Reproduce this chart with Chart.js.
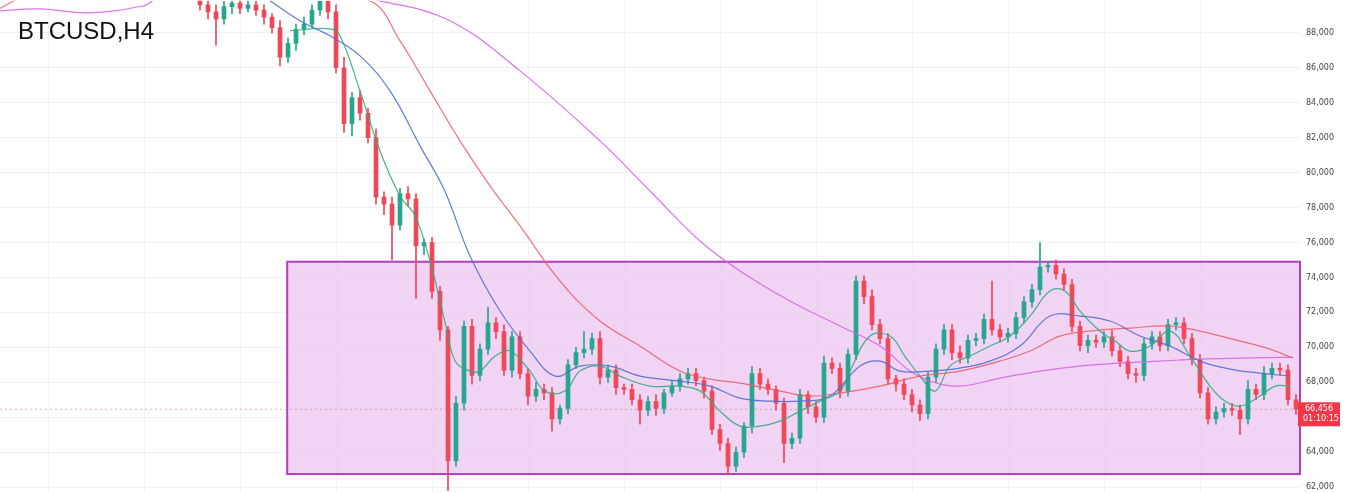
<!DOCTYPE html>
<html>
<head>
<meta charset="utf-8">
<script src="https://cdn.jsdelivr.net/npm/chart.js@4"></script>
<style>
  html, body { margin: 0; padding: 0; background: #fff; overflow: hidden; }
  #wrap { position: relative; width: 1351px; height: 493px; overflow: hidden; }
  #grafico { position: absolute; left: 0; top: -10px; }
  #title { position: absolute; left: 18px; top: 17px; font: 24px "Liberation Sans", Arial, sans-serif; color: #111; z-index: 2; }
</style>
</head>
<body>
<div id="wrap">
  <canvas id="grafico" width="1351" height="515"></canvas>
  <div id="title">BTCUSD,H4</div>
</div>
<script>
// closes of the H4 candles, oldest first (open = previous close)
const firstOpen = 89900;
const closes = [
  89600, 89200, 88800, 89500, 89700, 89400, 89600, 89300, 88900, 88300,
  86600, 87400, 88200, 88500, 89300, 89800, 89200, 86000, 82800, 84300,
  83400, 82000, 78600, 78200, 77000, 78800, 78500, 75800, 76000, 73200,
  71000, 63500, 66800, 71200, 68400, 69900, 71400, 70900, 68700, 70600,
  68500, 67200, 67600, 67400, 65900, 66500, 69000, 69700, 69900, 70500,
  68300, 68700, 67700, 67600, 67000, 66400, 66900, 66500, 67400, 67800,
  68200, 68500, 68100, 67500, 65300, 64500, 63200, 64000, 65500, 68500,
  67900, 67600, 66800, 64500, 64800, 67300, 66600, 66000, 69100, 68800,
  67500, 69600, 73800, 72900, 71300, 70500, 68200, 67900, 67300, 66700,
  66200, 68300, 69900, 71000, 69700, 69400, 70400, 70500, 71600, 71000,
  70600, 70800, 71700, 72600, 73300, 74600, 74700, 74200, 73600, 71200,
  70100, 70400, 70300, 70600, 69800, 69200, 68500, 68400, 70200, 70600,
  70100, 71300, 71400, 70500, 69300, 67400, 65900, 66300, 66500, 66400,
  65900, 67600, 67300, 68500, 68800, 68700, 67000, 66456
];
const upWick = [
  200,300,400,300,200,300,300,200,300,200,
  400,300,300,400,300,200,300,400,600,300,
  400,300,500,300,400,300,400,300,200,300,
  300,200,400,300,400,300,600,300,400,300,
  300,300,400,300,300,200,300,300,500,300,
  400,300,300,200,300,300,300,400,200,300,
  300,300,300,200,300,300,300,300,200,400,
  300,300,200,300,300,300,200,300,400,300,
  300,300,300,300,400,300,300,200,300,300,
  300,300,300,300,300,400,300,300,300,200,
  300,300,300,300,300,300,200,300,300,300,
  300,300,300,300,400,300,300,300,300,300,
  300,300,300,300,300,300,300,300,300,300,
  300,500,300,400,300,300,300,300
];
const dnWick = [
  300,400,1500,300,400,300,200,300,400,300,
  500,300,400,300,200,300,400,300,500,700,
  400,300,400,600,1000,300,400,300,500,400,
  600,1700,300,400,500,300,300,400,300,400,
  300,500,300,400,500,300,300,200,300,300,
  400,300,400,300,300,500,300,400,300,200,
  300,300,300,400,300,400,500,300,300,400,
  300,300,400,600,300,300,400,300,300,300,
  400,300,300,400,300,300,300,400,300,400,
  400,300,300,300,400,300,300,300,300,300,
  300,300,300,300,300,300,300,300,300,300,
  300,400,300,300,300,300,300,400,300,300,
  300,300,300,300,300,300,300,300,300,300,
  900,300,300,300,300,300,300,300
];
// notable wick extremes [candle, price]
const wickHighs = [[36, 72300], [48, 70900], [82, 74100], [99, 73800], [105, 76000]];
const wickLows = [[2, 87300], [24, 75000], [27, 72800], [31, 61800], [44, 65200], [55, 65600], [66, 62700], [73, 63400], [130, 65000]];

// moving averages [candle index, price]
const maGreen = [[11.25,88115],[16.25,88229],[17.5,87828],[20,84678],[22.5,81242],[25,78665],[26.9,77520],[28.75,74943],[30.6,71506],[31.9,69215],[33.75,68643],[35,68643],[36.9,69502],[38.75,69788],[41.25,68643],[43.1,67498],[45.6,67498],[47.5,68643],[50,68929],[52.5,68357],[56.25,67784],[60,67784],[62.5,67498],[65,66353],[67.5,65494],[70,65494],[72.5,65780],[75,66353],[77.5,66925],[80,67498],[81.25,68643],[83.75,70647],[86.25,70647],[88.1,69502],[90,68357],[91.9,67498],[93.75,68929],[96.25,69502],[98.75,70074],[101.25,70647],[103.75,71793],[106.25,73225],[108.1,73225],[110,72079],[112.5,70934],[114.4,70361],[116.25,69788],[118.75,70074],[121.25,70934],[123.75,69502],[126.25,67784],[128.1,66925],[130,66639],[132.5,67211],[134.4,67784],[136.25,67784]];
const maBlue = [[8.75,89833],[12.5,88687],[16.25,87828],[20,86683],[23.75,84678],[27.5,81529],[30.6,78951],[33.75,75229],[37.5,72079],[41.25,69788],[44.4,68357],[47.5,68929],[51.25,68929],[55,68357],[60,68070],[63.75,67784],[67.5,67097],[71.25,66925],[75,66925],[78.75,67211],[82.5,68929],[85,69215],[87.5,68643],[91.25,68643],[95,68815],[98.75,69215],[102.5,70074],[106.25,71793],[110,71793],[113.75,71506],[117.5,70647],[121.25,70074],[125,69215],[128.75,68758],[132.5,68528],[136.25,68357]];
const maRed = [[-25,89400],[-21,90300],[0,93000],[21.25,89833],[25,87542],[28.75,84678],[32.5,81815],[36.25,79238],[40,76947],[45,73797],[50,71506],[55,70074],[60,68643],[63.75,68185],[67.5,67956],[72.5,67498],[76.25,67211],[80,67383],[85,67784],[90,68357],[95,68643],[100,69215],[103.75,69788],[107.5,70647],[111.25,70934],[116.25,71106],[121.25,71220],[125,70934],[130,70361],[133.75,69903],[136.6,69388]];
const maPurple = [[-25,89260],[-20,89374],[-14,89145],[-7,89546],[-6,89833],[0,92000],[22.5,89833],[31.25,88687],[40,85824],[50,81815],[56.25,78951],[62.5,76088],[67.5,74370],[73.75,72652],[80,71220],[85,70074],[88.75,68643],[91.25,68070],[95,67784],[100,68242],[105,68643],[110,68929],[115,69101],[120,69215],[125,69331],[130,69388],[136.6,69445]];

// range box and last price
const boxTop = 74900, boxBottom = 62750, boxStart = 10.9;
const lastPrice = 66456, lastLabel = '66,456', timerLabel = '01:10:15';

const UP = 'rgb(38,166,140)', DOWN = 'rgb(239,72,88)';

const opens = closes.map((c, i) => i === 0 ? firstOpen : closes[i - 1]);
const highs = closes.map((c, i) => Math.max(opens[i], c) + upWick[i]);
const lows = closes.map((c, i) => Math.min(opens[i], c) - dnWick[i]);
wickHighs.forEach(([i, p]) => highs[i] = p);
wickLows.forEach(([i, p]) => lows[i] = p);
const corVela = closes.map((c, i) => c >= opens[i] ? UP : DOWN);

const toPts = arr => arr.map(([x, y]) => ({ x, y }));

const boxPlugin = {
  id: 'boxPlugin',
  beforeDatasetsDraw(chart) {
    const { ctx, scales: { x, y }, chartArea } = chart;
    ctx.save();
    // faint vertical grid
    ctx.strokeStyle = '#f3f3f3';
    ctx.lineWidth = 1;
    for (let v = -19; v < 137; v += 12) {
      const xp = Math.round(x.getPixelForValue(v)) + 0.5;
      ctx.beginPath(); ctx.moveTo(xp, chartArea.top); ctx.lineTo(xp, chartArea.bottom); ctx.stroke();
    }
    const x0 = x.getPixelForValue(boxStart), x1 = chartArea.right;
    const y0 = y.getPixelForValue(boxTop), y1 = y.getPixelForValue(boxBottom);
    ctx.fillStyle = 'rgba(238,200,240,0.8)';
    ctx.fillRect(x0, y0, x1 - x0, y1 - y0);
    ctx.strokeStyle = '#b23fc2';
    ctx.lineWidth = 2;
    ctx.strokeRect(x0, y0, x1 - x0, y1 - y0);
    const yp = y.getPixelForValue(lastPrice);
    ctx.setLineDash([2, 3]);
    ctx.lineWidth = 1;
    ctx.strokeStyle = 'rgba(200,120,120,0.6)';
    ctx.beginPath(); ctx.moveTo(chartArea.left, yp); ctx.lineTo(chartArea.right, yp); ctx.stroke();
    ctx.restore();
  },
  afterDraw(chart) {
    const { ctx, scales: { y }, chartArea } = chart;
    const yp = y.getPixelForValue(lastPrice);
    ctx.save();
    ctx.fillStyle = '#f23645';
    ctx.fillRect(chartArea.right - 2, yp - 7, 42, 24);
    ctx.fillStyle = '#fff';
    ctx.font = '8px "DejaVu Sans"';
    ctx.textAlign = 'left';
    ctx.textBaseline = 'middle';
    ctx.fillText(lastLabel, chartArea.right + 5, yp);
    ctx.fillText(timerLabel, chartArea.right + 3, yp + 10);
    ctx.restore();
  }
};

const linha = (data, color) => ({
  type: 'line', data: toPts(data), borderColor: color, borderWidth: 1.2,
  pointRadius: 0, tension: 0.4, fill: false, order: 0
});

new Chart(document.getElementById('grafico').getContext('2d'), {
  type: 'bar',
  data: {
    datasets: [
      linha(maGreen, 'rgba(50,170,130,0.9)'),
      linha(maBlue, 'rgba(80,110,210,0.9)'),
      linha(maRed, 'rgba(235,90,100,0.85)'),
      linha(maPurple, 'rgba(215,100,235,0.9)'),
      {
        data: closes.map((c, i) => ({ x: i, y: [opens[i], c] })),
        backgroundColor: corVela, borderWidth: 0, barThickness: 4, grouped: false, order: 1,
        minBarLength: 1
      },
      {
        data: closes.map((c, i) => ({ x: i, y: [lows[i], highs[i]] })),
        backgroundColor: corVela, borderWidth: 0, barThickness: 1, grouped: false, order: 2
      }
    ]
  },
  options: {
    animation: false,
    responsive: false,
    layout: { padding: 0 },
    plugins: { legend: { display: false }, tooltip: { enabled: false } },
    scales: {
      x: {
        type: 'linear', min: -25, max: 137.5, offset: false, display: false
      },
      y: {
        position: 'right', min: 61597, max: 89833,
        afterFit(scale) { scale.width = 51; },
        afterBuildTicks(scale) {
          const t = [];
          for (let v = 62000; v <= 88000; v += 2000) t.push({ value: v });
          scale.ticks = t;
        },
        ticks: {
          font: { size: 8, family: 'DejaVu Sans' }, color: '#444', padding: 6,
          callback: v => v.toLocaleString('en-US')
        },
        grid: { color: '#f1f1f1', drawTicks: false },
        border: { display: false }
      }
    }
  },
  plugins: [boxPlugin]
});
</script>
</body>
</html>
